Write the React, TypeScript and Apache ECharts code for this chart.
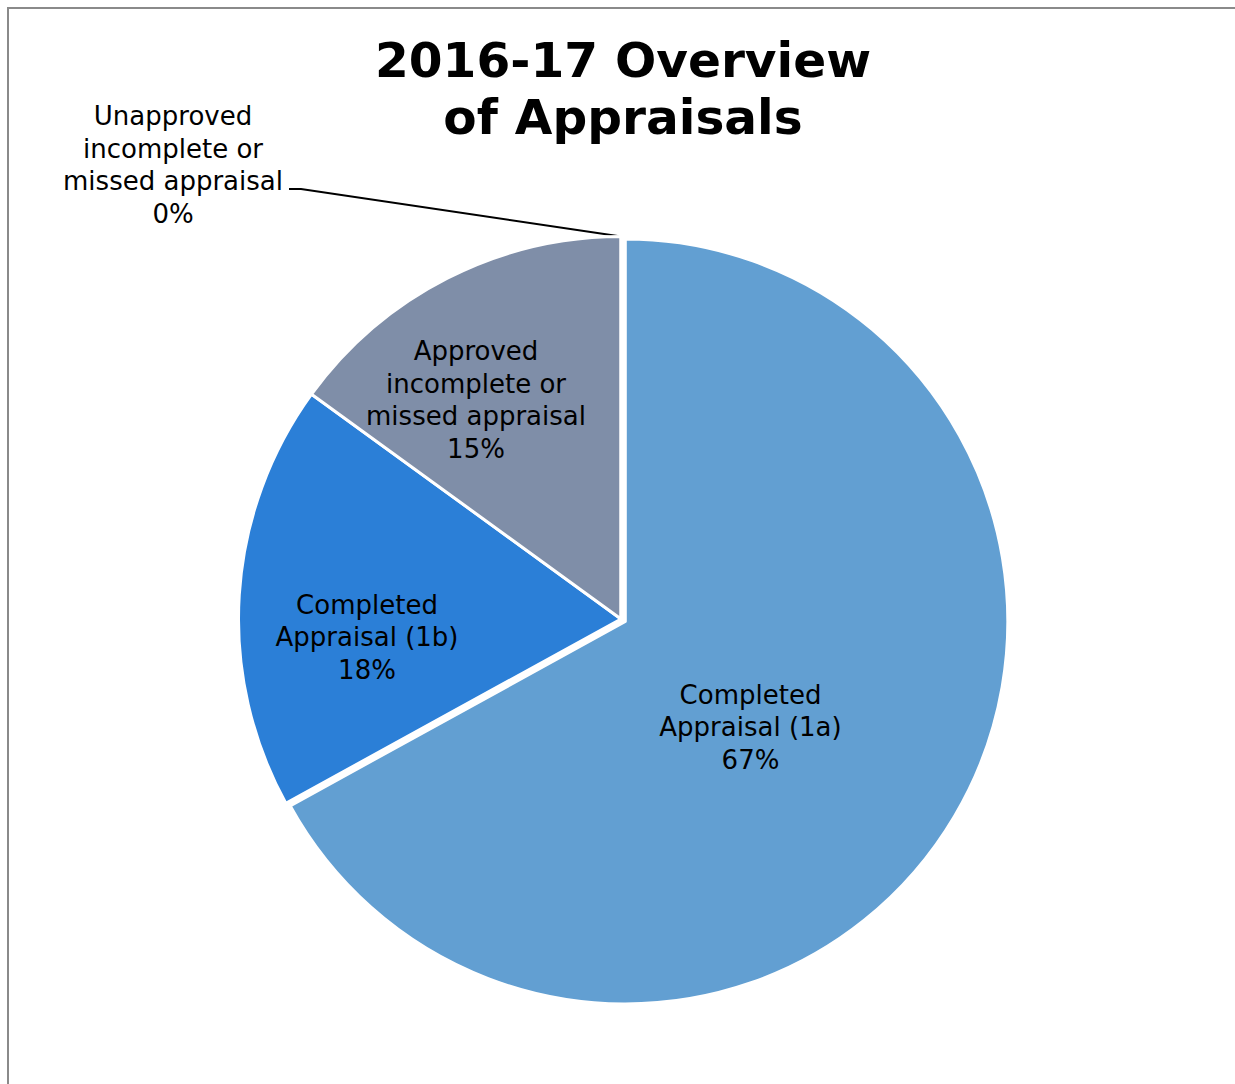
import React, { useEffect, useRef } from "react";
import * as echarts from "echarts";

const TITLE = "2016-17 Overview\nof Appraisals";
const categories = [
  "Completed\nAppraisal (1a)",
  "Completed\nAppraisal (1b)",
  "Approved\nincomplete or\nmissed appraisal",
  "Unapproved\nincomplete or\nmissed appraisal",
];
const values = [67, 18, 15, 0];
const colors = ["#629FD2", "#2B7FD7", "#7F8EA8", "#A5A5A5"];
const exploded = [true, false, false, false];

// label anchor positions (layout only)
const labelPos = [
  [750, 727],
  [367, 637],
  [476, 400],
  [173, 165],
];

export default function App() {
  const ref = useRef<HTMLDivElement>(null);
  useEffect(() => {
    if (!ref.current) return;
    const chart = echarts.init(ref.current, undefined, { renderer: "svg" });
    chart.setOption({
      animation: false,
      backgroundColor: "#ffffff",
      title: {
        text: TITLE,
        left: 623,
        top: 31,
        padding: 0,
        textAlign: "center",
        textStyle: {
          fontFamily: "DejaVu Sans",
          fontWeight: "bold",
          fontSize: 48.6,
          lineHeight: 57,
          color: "#000",
        },
      },
      series: [
        {
          type: "pie",
          center: [621, 619],
          radius: 382.5,
          startAngle: 90,
          clockwise: true,
          selectedMode: "single",
          selectedOffset: 5,
          avoidLabelOverlap: false,
          emphasis: { disabled: true },
          itemStyle: { borderColor: "#ffffff", borderWidth: 3 },
          label: {
            show: true,
            position: "inside",
            formatter: "{b}\n{d}%",
            fontFamily: "DejaVu Sans",
            fontSize: 26,
            lineHeight: 32.5,
            color: "#000",
            align: "center",
          },
          labelLine: { show: false },
          labelLayout: (p: any) => {
            const [x, y] = labelPos[p.dataIndex];
            const res: any = { x, y, align: "center", verticalAlign: "middle" };
            if (p.dataIndex === 3) {
              const start =
                p.labelLinePoints && p.labelLinePoints[0]
                  ? p.labelLinePoints[0]
                  : [621, 236];
              res.labelLinePoints = [start, [301, 189], [289, 189]];
            }
            return res;
          },
          data: categories.map((name, i) => ({
            name,
            value: values[i],
            selected: exploded[i],
            itemStyle: { color: colors[i] },
            ...(i === 0
              ? {
                  label: {
                    padding: [0, 84, 0, 0],
                    formatter: "{s|}\n{b}\n{d}%",
                    rich: { s: { fontSize: 1, lineHeight: 14 } },
                  },
                }
              : {}),
            ...(i === 3
              ? {
                  label: { position: "outside" },
                  labelLine: {
                    show: true,
                    length: 20,
                    length2: 10,
                    lineStyle: { color: "#000", width: 1.8 },
                  },
                }
              : {}),
          })),
        },
      ],
    });
    return () => chart.dispose();
  }, []);
  return (
    <div style={{ position: "fixed", left: 0, top: 0, width: 1235, height: 1084, background: "#fff" }}>
      <div ref={ref} style={{ position: "absolute", left: 0, top: 0, width: 1235, height: 1084 }} />
      <div
        style={{
          position: "absolute",
          left: 7,
          top: 7,
          width: 1240,
          height: 1090,
          borderLeft: "2px solid #8a8a8a",
          borderTop: "2px solid #8a8a8a",
          pointerEvents: "none",
        }}
      />
    </div>
  );
}
